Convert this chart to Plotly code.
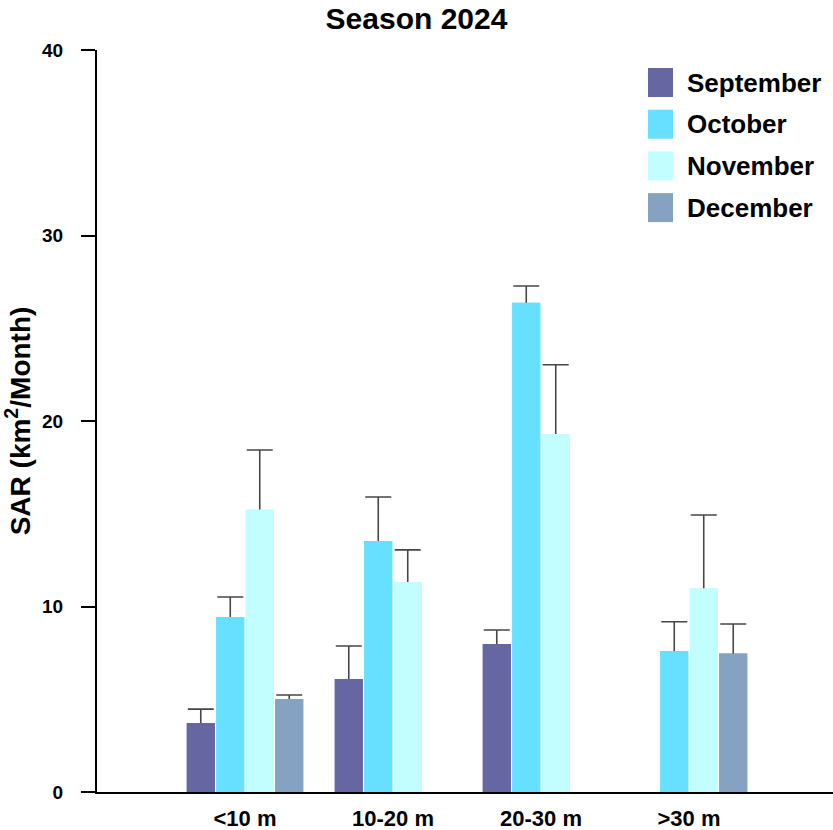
import plotly.graph_objects as go

# Depth classes and months
categories = ["<10 m", "10-20 m", "20-30 m", ">30 m"]
months = ["September", "October", "November", "December"]
colors = ["#6566a2", "#66e0fe", "#c2fefe", "#86a2c2"]

# Mean SAR (km²/month) per depth class
september = [3.72, 6.09, 7.98, None]
october = [9.43, 13.53, 26.38, 7.6]
november = [15.23, 11.32, 19.3, 10.98]
december = [5.01, None, None, 7.47]

# Upper error (standard deviation)
september_err = [0.75, 1.78, 0.75, None]
october_err = [1.08, 2.37, 0.9, 1.58]
november_err = [3.21, 1.73, 3.73, 3.95]
december_err = [0.22, None, None, 1.59]

values = [september, october, november, december]
errors = [september_err, october_err, november_err, december_err]

FONT = "Liberation Sans, Arial, Helvetica, sans-serif"

fig = go.Figure()

# First pass: bars carrying upward-only error bars
for name, vals, errs, col in zip(months, values, errors, colors):
    fig.add_trace(go.Bar(
        x=categories, y=vals, name=name, offsetgroup=name,
        marker=dict(color=col, line=dict(width=0)),
        error_y=dict(type="data", symmetric=False, array=errs,
                     arrayminus=[0.3 if e is not None else None for e in errs],
                     color="#474747", thickness=1.6, width=13),
        showlegend=False, hoverinfo="skip",
    ))

# Second pass: same bars on top, hiding the lower whisker inside each bar
for name, vals, col in zip(months, values, colors):
    fig.add_trace(go.Bar(
        x=categories, y=vals, name=name, offsetgroup=name,
        marker=dict(color=col, line=dict(width=0)),
        showlegend=False,
    ))

W, H = 833, 830
ML, MT, MB, MR = 97, 50, 38, 0
pw = W - ML - MR
ph = H - MT - MB


def px_x(p):
    return (p - ML) / pw


def px_y(p):
    return (H - MB - p) / ph


# Legend drawn as large colour swatches with labels
shapes = []
annotations = []
for i, (name, col) in enumerate(zip(months, colors)):
    top = 68 + i * 41.7
    shapes.append(dict(type="rect", xref="paper", yref="paper",
                       x0=px_x(648), x1=px_x(673), y0=px_y(top + 29), y1=px_y(top),
                       fillcolor=col, line=dict(width=0)))
    annotations.append(dict(xref="paper", yref="paper", x=px_x(685), y=px_y(top + 14.5),
                            xanchor="left", yanchor="middle", showarrow=False,
                            text=name, font=dict(family=FONT, size=26, color="black",
                                                 weight="bold")))

fig.update_layout(
    width=W, height=H,
    margin=dict(l=ML, r=MR, t=MT, b=MB, pad=0),
    paper_bgcolor="white", plot_bgcolor="white",
    barmode="group", bargap=0.203, bargroupgap=0.05,
    title=dict(text="Season 2024", x=0.5, xref="container", xanchor="center",
               y=1 - 18 / H, yref="container", yanchor="middle",
               font=dict(family=FONT, size=30, color="black", weight="bold")),
    shapes=shapes, annotations=annotations,
    showlegend=False,
    font=dict(family=FONT, color="black"),
)

fig.update_xaxes(
    range=[-1, -1 + pw / 148], showgrid=False, zeroline=False,
    showline=True, linecolor="black", linewidth=2,
    ticks="", tickfont=dict(family=FONT, size=22, color="black", weight="bold"),
    ticklabelstandoff=6,
)
fig.update_yaxes(
    range=[0, 40], tickvals=[0, 10, 20, 30, 40], showgrid=False, zeroline=False,
    showline=True, linecolor="black", linewidth=2,
    ticks="outside", ticklen=14, tickwidth=2, tickcolor="black",
    tickfont=dict(family=FONT, size=19, color="black", weight="bold"),
    ticklabelstandoff=14,
    title=dict(text="SAR (km<sup>2</sup>/Month)", standoff=14,
               font=dict(family=FONT, size=28, color="black", weight="bold")),
)

fig.write_html("out.html")
